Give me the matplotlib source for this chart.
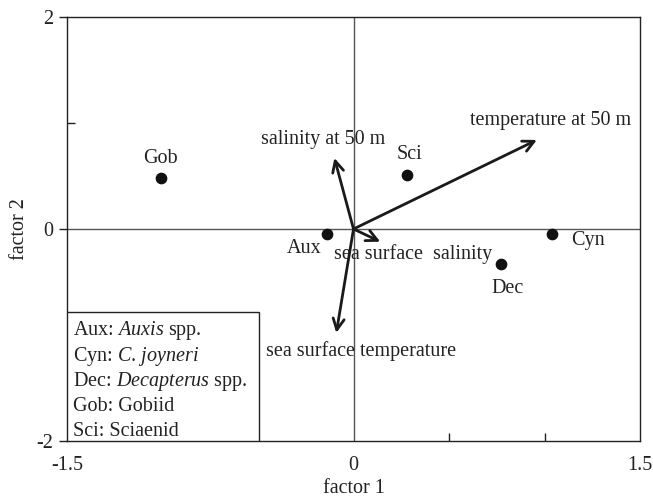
import numpy as np
import matplotlib.pyplot as plt
from matplotlib.patches import Rectangle

plt.rcParams['font.family'] = 'Liberation Serif'
plt.rcParams['mathtext.fontset'] = 'custom'
plt.rcParams['mathtext.rm'] = 'Liberation Serif'
plt.rcParams['mathtext.it'] = 'Liberation Serif:italic'

# species scores on the two factors
species = ['Gob', 'Aux', 'Sci', 'Cyn', 'Dec']
f1 = [-1.01, -0.14, 0.28, 1.04, 0.77]
f2 = [0.48, -0.05, 0.51, -0.05, -0.33]

# environmental variable loadings
variables = ['temperature at 50 m', 'salinity at 50 m',
             'sea surface  salinity', 'sea surface temperature']
load1 = [0.96, -0.10, 0.14, -0.09]
load2 = [0.84, 0.67, -0.12, -0.98]

legend_lines = [r'Aux: $\mathit{Auxis}$ spp.',
                r'Cyn: $\mathit{C.\,joyneri}$',
                r'Dec: $\mathit{Decapterus}$ spp.',
                'Gob: Gobiid',
                'Sci: Sciaenid']

fs = 14.5
fig = plt.figure(figsize=(6.53, 5.03), dpi=100)
ax = fig.add_axes([67/653, 1 - 441/503, 573/653, 424/503])
ax.set_xlim(-1.5, 1.5)
ax.set_ylim(-2, 2)

ax.axhline(0, color='#555555', lw=1.0, zorder=1)
ax.axvline(0, color='#555555', lw=1.0, zorder=1)

ax.scatter(f1, f2, s=55, color='#111111', zorder=3)

# point labels: (dx, dy) in points, alignment
label_pos = {'Gob': (0, 14, 'center'), 'Aux': (-4, -10, 'right'),
             'Sci': (2, 14.5, 'center'), 'Cyn': (14, -4.5, 'left'),
             'Dec': (5, -17.5, 'center')}
for name, x, y in zip(species, f1, f2):
    dx, dy, ha = label_pos[name]
    ax.annotate(name, (x, y), xytext=(dx, dy), textcoords='offset points',
                ha=ha, va='center', fontsize=fs, color='#222222', zorder=4)

# loading arrows from the origin
for x, y in zip(load1, load2):
    ax.annotate('', xy=(x, y), xytext=(0, 0),
                arrowprops=dict(arrowstyle='->', lw=2.0, color='#1a1a1a',
                                mutation_scale=20, shrinkA=0, shrinkB=0),
                zorder=3)

var_text_pos = [(1.034, 1.02), (-0.16, 0.845), (0.314, -0.236), (0.039, -1.156)]
for name, (tx, ty) in zip(variables, var_text_pos):
    ax.text(tx, ty, name, ha='center', va='center', fontsize=fs,
            color='#222222', zorder=4)

# abbreviation key in the lower-left corner
ax.add_patch(Rectangle((0, 0), 192/573, 129/424, transform=ax.transAxes,
                       facecolor='white', edgecolor='#222222', lw=1.0,
                       zorder=5))
for i, line in enumerate(legend_lines):
    ax.text(6/573, (110 - 25.2 * i) / 424, line, transform=ax.transAxes,
            ha='left', va='center', fontsize=fs, color='#222222', zorder=6)

for s in ax.spines.values():
    s.set_linewidth(1.0)
    s.set_color('#222222')

ax.set_xticks([-1.5, 0, 1.5])
ax.set_xticklabels(['-1.5', '0', '1.5'])
ax.set_xticks([-1, -0.5, 0.5, 1], minor=True)
ax.set_yticks([-2, 0, 2])
ax.set_yticklabels(['-2', '0', '2'])
ax.set_yticks([-1, 1], minor=True)
ax.tick_params(axis='x', which='major', length=0, pad=11, labelsize=fs,
               colors='#222222')
ax.tick_params(axis='x', which='minor', direction='in', length=6,
               width=1.0, color='#222222')
ax.tick_params(axis='y', which='major', direction='out', length=6,
               width=1.0, pad=4, labelsize=fs, colors='#222222')
ax.tick_params(axis='y', which='minor', direction='in', length=6,
               width=1.0, color='#222222')

ax.set_xlabel('factor 1', fontsize=fs, color='#222222', labelpad=3)
ax.set_ylabel('factor 2', fontsize=fs, color='#222222', labelpad=5)

fig.savefig('out.png', dpi=100)
